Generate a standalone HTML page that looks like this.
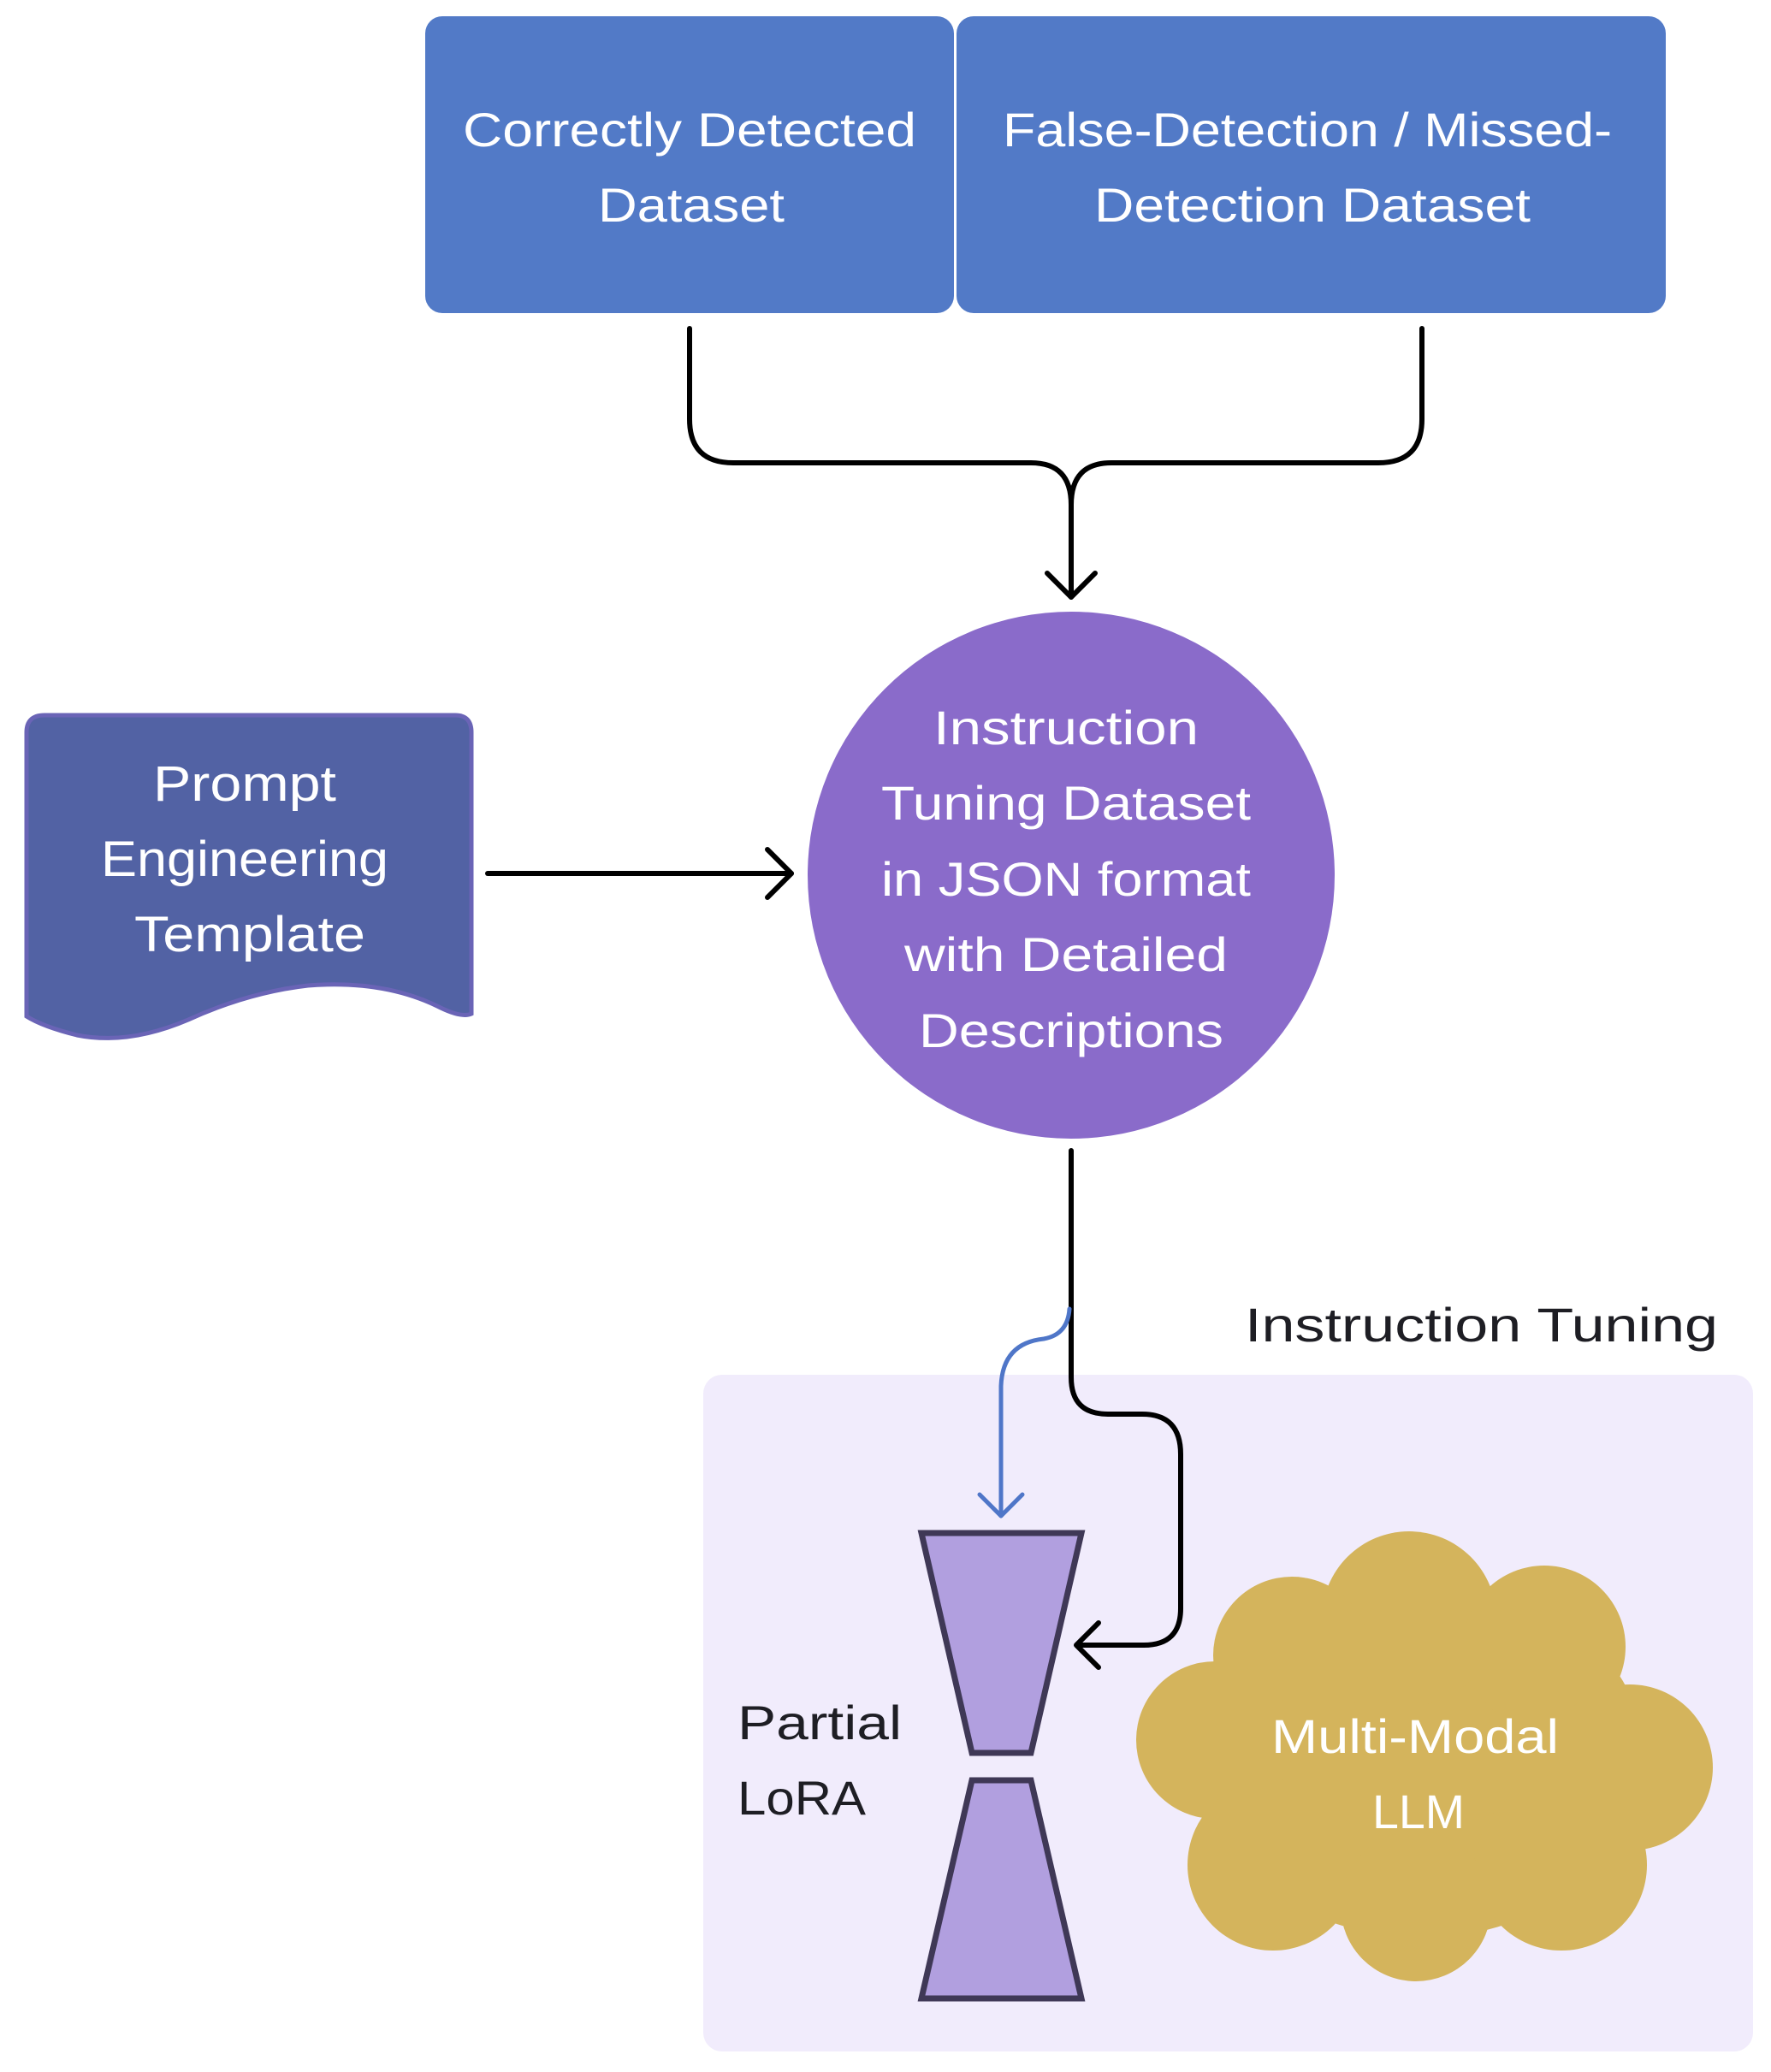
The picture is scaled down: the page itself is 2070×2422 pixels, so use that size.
<!DOCTYPE html>
<html><head><meta charset="utf-8"><style>
html,body{margin:0;padding:0;background:#fff;}
svg{display:block;}
text{font-family:"Liberation Sans",sans-serif;}
</style></head><body>
<svg width="2070" height="2422" viewBox="0 0 2070 2422" xmlns="http://www.w3.org/2000/svg">
<!-- panel -->
<rect x="822" y="1607" width="1227" height="791" rx="22" fill="#f1ecfc"/>
<text x="1455" y="1568" font-size="56" fill="#1e1e24" textLength="553" lengthAdjust="spacingAndGlyphs">Instruction Tuning</text>
<!-- top boxes -->
<rect x="497" y="19" width="618" height="347" rx="20" fill="#527ac7"/>
<rect x="1118" y="19" width="829" height="347" rx="20" fill="#527ac7"/>
<g fill="#fff" font-size="56" text-anchor="middle">
<text x="806" y="171" textLength="530" lengthAdjust="spacingAndGlyphs">Correctly Detected</text>
<text x="808" y="259" textLength="218" lengthAdjust="spacingAndGlyphs">Dataset</text>
<text x="1528" y="171" textLength="712" lengthAdjust="spacingAndGlyphs">False-Detection / Missed-</text>
<text x="1534" y="259" textLength="510" lengthAdjust="spacingAndGlyphs">Detection Dataset</text>
</g>
<!-- connectors -->
<g fill="none" stroke="#000" stroke-width="6" stroke-linecap="round" stroke-linejoin="round">
<path d="M806 384 V490 Q806 541 857 541 H1205 Q1252 541 1252 590 V698"/>
<path d="M1662 384 V490 Q1662 541 1611 541 H1299 Q1252 541 1252 590"/>
<path d="M1224 670 L1252 698 L1280 670"/>
<path d="M570 1021 H925"/>
<path d="M897 993 L925 1021 L897 1049"/>
<path d="M1252 1345 V1610 Q1252 1653 1295 1653 H1335 Q1380 1653 1380 1700 V1880 Q1380 1923 1337 1923 H1260"/>
<path d="M1284 1897 L1258 1923 L1284 1949"/>
</g>
<!-- circle -->
<circle cx="1252" cy="1023" r="308" fill="#8a6bca"/>
<g fill="#fff" font-size="56" text-anchor="middle">
<text x="1246" y="870" textLength="310" lengthAdjust="spacingAndGlyphs">Instruction</text>
<text x="1246" y="958" textLength="432" lengthAdjust="spacingAndGlyphs">Tuning Dataset</text>
<text x="1246" y="1047" textLength="432" lengthAdjust="spacingAndGlyphs">in JSON format</text>
<text x="1246" y="1135" textLength="378" lengthAdjust="spacingAndGlyphs">with Detailed</text>
<text x="1252" y="1224" textLength="356" lengthAdjust="spacingAndGlyphs">Descriptions</text>
</g>
<!-- prompt doc -->
<path d="M52 836 H532 Q551 836 551 856 V1185 Q540 1190 515 1178 Q450 1145 360 1152 Q290 1160 220 1192 Q150 1222 90 1210 Q50 1200 31 1188 V856 Q31 836 52 836 Z" fill="#5262a4" stroke="#6a64b6" stroke-width="5"/>
<g fill="#fff" font-size="58" text-anchor="middle">
<text x="286" y="936" textLength="214" lengthAdjust="spacingAndGlyphs">Prompt</text>
<text x="286" y="1024" textLength="336" lengthAdjust="spacingAndGlyphs">Engineering</text>
<text x="292" y="1112" textLength="270" lengthAdjust="spacingAndGlyphs">Template</text>
</g>
<!-- blue connector -->
<g fill="none" stroke="#4f76c8" stroke-width="5" stroke-linecap="round" stroke-linejoin="round">
<path d="M1250 1530 Q1248 1560 1220 1565 Q1172 1570 1170 1620 V1772"/>
<path d="M1145 1747 L1170 1772 L1195 1747"/>
</g>
<!-- trapezoids -->
<g fill="#b19fdf" stroke="#3f3856" stroke-width="7">
<path d="M1077 1792 H1264 L1205 2049 H1136 Z"/>
<path d="M1136 2081 H1205 L1264 2336 H1077 Z"/>
</g>
<g fill="#1e1e24" font-size="56">
<text x="862" y="2033" textLength="192" lengthAdjust="spacingAndGlyphs">Partial</text>
<text x="862" y="2121" textLength="150" lengthAdjust="spacingAndGlyphs">LoRA</text>
</g>
<!-- cloud -->
<g fill="#d4b45c">
<ellipse cx="1662" cy="2055" rx="260" ry="210"/>
<circle cx="1647" cy="1892" r="102"/>
<circle cx="1510" cy="1935" r="92"/>
<circle cx="1805" cy="1925" r="95"/>
<circle cx="1420" cy="2034" r="92"/>
<circle cx="1905" cy="2066" r="97"/>
<circle cx="1488" cy="2180" r="100"/>
<circle cx="1655" cy="2228" r="88"/>
<circle cx="1825" cy="2180" r="100"/>
</g>
<g fill="#fff" font-size="56" text-anchor="middle">
<text x="1654" y="2049" textLength="336" lengthAdjust="spacingAndGlyphs">Multi-Modal</text>
<text x="1658" y="2137" textLength="108" lengthAdjust="spacingAndGlyphs">LLM</text>
</g>
</svg>
</body></html>
